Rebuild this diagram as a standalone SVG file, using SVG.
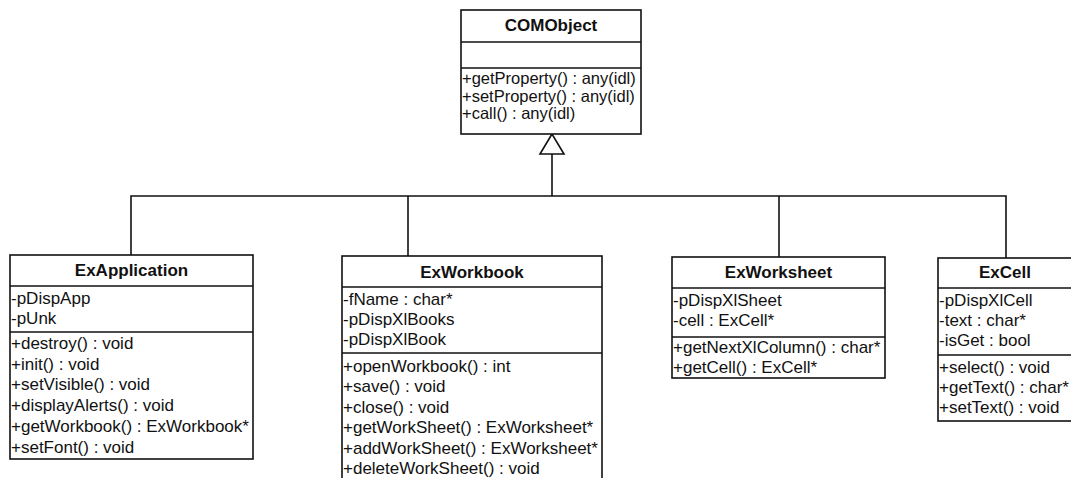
<svg xmlns="http://www.w3.org/2000/svg" width="1071" height="478" viewBox="0 0 1071 478">
<style>
.box{fill:#fff;stroke:#111;stroke-width:1.6}
.sep{stroke:#111;stroke-width:1.4}
.t{font-family:"Liberation Sans",Arial,sans-serif;font-size:17px;fill:#111}
.s{font-size:16.5px}
.h{font-family:"Liberation Sans",Arial,sans-serif;font-size:17px;font-weight:bold;fill:#111;text-anchor:middle}
.c{fill:none;stroke:#111;stroke-width:1.6}
</style>
<rect width="1071" height="478" fill="#fff"/>
<g id="connectors">
<polyline class="c" points="131,255 131,196 1006,196 1006,258"/>
<line class="c" x1="408" y1="196" x2="408" y2="256"/>
<line class="c" x1="779" y1="196" x2="779" y2="257"/>
<line class="c" x1="552" y1="196" x2="552" y2="154"/>
<polygon class="c" points="552,134 540,154 564,154" fill="#fff"/>
</g>
<g id="COMObject">
<rect class="box" x="461" y="10" width="180" height="124"/>
<line class="sep" x1="461" y1="42" x2="641" y2="42"/>
<line class="sep" x1="461" y1="68" x2="641" y2="68"/>
<text class="h" x="551" y="31">COMObject</text>
<text class="t s" x="462" y="84">+getProperty() : any(idl)</text>
<text class="t s" x="462" y="101.5">+setProperty() : any(idl)</text>
<text class="t s" x="462" y="119">+call() : any(idl)</text>
</g>
<g id="ExApplication">
<rect class="box" x="10" y="255" width="243" height="204"/>
<line class="sep" x1="10" y1="286" x2="253" y2="286"/>
<line class="sep" x1="10" y1="332" x2="253" y2="332"/>
<text class="h" x="131.5" y="276">ExApplication</text>
<text class="t" x="11" y="304">-pDispApp</text>
<text class="t" x="11" y="324">-pUnk</text>
<text class="t" x="11" y="349">+destroy() : void</text>
<text class="t" x="11" y="369.7">+init() : void</text>
<text class="t" x="11" y="390.4">+setVisible() : void</text>
<text class="t" x="11" y="411">+displayAlerts() : void</text>
<text class="t" x="11" y="431.8">+getWorkbook() : ExWorkbook*</text>
<text class="t" x="11" y="452.5">+setFont() : void</text>
</g>
<g id="ExWorkbook">
<rect class="box" x="342" y="256" width="260" height="230"/>
<line class="sep" x1="342" y1="287" x2="602" y2="287"/>
<line class="sep" x1="342" y1="353" x2="602" y2="353"/>
<text class="h" x="472" y="278">ExWorkbook</text>
<text class="t" x="343" y="305">-fName : char*</text>
<text class="t" x="343" y="325">-pDispXlBooks</text>
<text class="t" x="343" y="345">-pDispXlBook</text>
<text class="t" x="343" y="372">+openWorkbook() : int</text>
<text class="t" x="343" y="392.4">+save() : void</text>
<text class="t" x="343" y="412.8">+close() : void</text>
<text class="t" x="343" y="433.2">+getWorkSheet() : ExWorksheet*</text>
<text class="t" x="343" y="453.6">+addWorkSheet() : ExWorksheet*</text>
<text class="t" x="343" y="474">+deleteWorkSheet() : void</text>
</g>
<g id="ExWorksheet">
<rect class="box" x="672" y="257" width="213" height="121"/>
<line class="sep" x1="672" y1="288" x2="885" y2="288"/>
<line class="sep" x1="672" y1="337" x2="885" y2="337"/>
<text class="h" x="778.5" y="278">ExWorksheet</text>
<text class="t" x="673" y="306">-pDispXlSheet</text>
<text class="t" x="673" y="326">-cell : ExCell*</text>
<text class="t" x="673" y="353">+getNextXlColumn() : char*</text>
<text class="t" x="673" y="373">+getCell() : ExCell*</text>
</g>
<g id="ExCell">
<rect class="box" x="938" y="258" width="134" height="163"/>
<line class="sep" x1="938" y1="288" x2="1072" y2="288"/>
<line class="sep" x1="938" y1="355" x2="1072" y2="355"/>
<text class="h" x="1005" y="278">ExCell</text>
<text class="t" x="939" y="306">-pDispXlCell</text>
<text class="t" x="939" y="326">-text : char*</text>
<text class="t" x="939" y="346">-isGet : bool</text>
<text class="t" x="939" y="373">+select() : void</text>
<text class="t" x="939" y="393">+getText() : char*</text>
<text class="t" x="939" y="413">+setText() : void</text>
</g>
</svg>
